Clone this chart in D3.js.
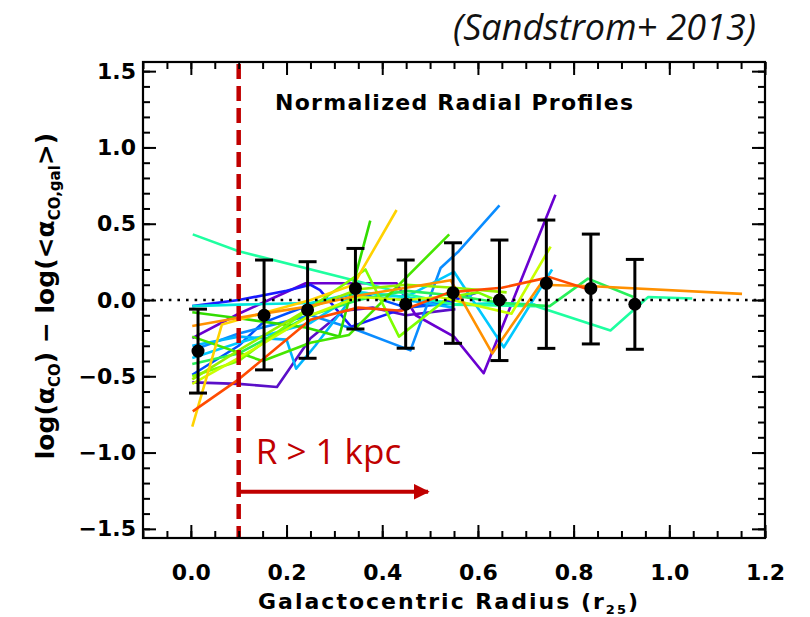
<!DOCTYPE html>
<html>
<head>
<meta charset="utf-8">
<script src="https://cdnjs.cloudflare.com/ajax/libs/d3/7.8.5/d3.min.js"></script>
<style>
  body { margin: 0; background: #fff; }
  svg { display: block; }
</style>
</head>
<body>
<svg id="chart"></svg>
<script>
// binned average profile (black points)
var binX   = [0.015, 0.153, 0.244, 0.344, 0.449, 0.548, 0.645, 0.743, 0.836, 0.928];
var binY   = [-0.335, -0.10, -0.065, 0.076, -0.028, 0.048, 0.0, 0.109, 0.076, -0.028];
var binTop = [-0.06, 0.262, 0.251, 0.338, 0.262, 0.375, 0.393, 0.524, 0.432, 0.266];
var binBot = [-0.61, -0.458, -0.382, -0.19, -0.316, -0.284, -0.397, -0.317, -0.288, -0.323];

// individual galaxy profiles, drawn in rainbow order
var galColors = ["#5a0fc8", "#6a00d0", "#1a1aff", "#0050ff", "#0a8cff", "#00b4ff", "#00c8ff",
                 "#00e6dc", "#1effa0", "#28f05a", "#32dc00", "#46e600", "#7dff00", "#c8ff00",
                 "#96f000", "#ffd200", "#ff9000", "#ff4b00"];
var galProfiles = [
  [[0.003,-0.54],[0.1,-0.55],[0.18,-0.57],[0.25,-0.25],[0.32,-0.07],[0.38,-0.05],[0.45,-0.1],[0.553,-0.06]],
  [[0.003,-0.25],[0.1,-0.09],[0.24,0.11],[0.43,0.11],[0.47,-0.1],[0.55,-0.24],[0.612,-0.48],[0.762,0.69]],
  [[0.003,-0.04],[0.1,0.0],[0.2,0.06],[0.25,0.1],[0.27,0.065],[0.335,-0.175],[0.45,-0.05],[0.55,0.0],[0.6,0.05]],
  [[0.003,-0.49],[0.1,-0.3],[0.15,-0.15],[0.25,-0.03],[0.35,0.05],[0.45,-0.05],[0.55,-0.02]],
  [[0.003,-0.33],[0.1,-0.22],[0.25,-0.1],[0.35,-0.2],[0.459,-0.33],[0.522,0.21],[0.56,0.32],[0.645,0.62]],
  [[0.003,-0.3],[0.1,-0.24],[0.2,-0.26],[0.22,-0.45],[0.26,-0.3],[0.34,0.03],[0.45,0.0],[0.55,-0.05]],
  [[0.003,-0.38],[0.1,-0.28],[0.25,-0.15],[0.35,0.05],[0.45,0.02],[0.55,0.185],[0.654,-0.31],[0.755,0.2]],
  [[0.003,-0.04],[0.1,-0.03],[0.25,-0.02],[0.35,0.05],[0.45,0.02],[0.55,-0.03],[0.65,-0.02],[0.72,-0.03]],
  [[0.004,0.43],[0.1,0.32],[0.34,0.13],[0.45,0.04],[0.55,-0.03],[0.72,-0.04],[0.877,-0.2],[0.956,0.02],[1.048,0.01]],
  [[0.003,-0.42],[0.1,-0.35],[0.25,-0.1],[0.35,0.0],[0.45,0.06],[0.55,0.03],[0.65,-0.02],[0.75,-0.04],[0.83,0.14],[0.925,0.02]],
  [[0.003,-0.08],[0.1,-0.12],[0.24,-0.18],[0.31,-0.24],[0.375,0.52]],
  [[0.003,-0.24],[0.15,-0.4],[0.25,-0.28],[0.33,-0.23],[0.54,0.43]],
  [[0.003,-0.5],[0.1,-0.4],[0.25,-0.05],[0.365,0.2],[0.435,-0.24],[0.54,0.02],[0.6,0.05],[0.63,0.01]],
  [[0.003,-0.55],[0.1,-0.38],[0.25,-0.1],[0.35,0.02],[0.45,0.0],[0.52,0.02],[0.67,-0.09],[0.752,0.35]],
  [[0.003,-0.52],[0.1,-0.33],[0.25,-0.05],[0.35,0.07],[0.45,0.1],[0.55,0.08],[0.66,0.05]],
  [[0.003,-0.83],[0.065,-0.16],[0.25,0.0],[0.34,0.1],[0.43,0.59]],
  [[0.003,-0.17],[0.13,-0.1],[0.25,-0.04],[0.35,0.03],[0.45,0.08],[0.543,0.13],[0.63,-0.35],[0.73,0.1],[0.84,0.09],[1.152,0.04]],
  [[0.004,-0.73],[0.1,-0.52],[0.25,-0.13],[0.35,-0.05],[0.44,-0.07],[0.54,0.05],[0.65,0.08],[0.75,0.15],[0.835,0.065]]
];

var xMajor = [0.0, 0.2, 0.4, 0.6, 0.8, 1.0, 1.2];
var yMajor = [-1.5, -1.0, -0.5, 0.0, 0.5, 1.0, 1.5];
var cutR = 0.1;          // R > 1 kpc cut, in r25
var arrowEnd = 0.5;
var arrowY = -1.257;

var W = 810, H = 617;
var pL = 143, pR = 765, pT = 62, pB = 538;
var red = "#c00000";
var axisFont = "'DejaVu Sans', sans-serif";

var svg = d3.select("#chart").attr("width", W).attr("height", H);

var x = d3.scaleLinear().domain([-0.1, 1.2]).range([pL, pR]);
var y = d3.scaleLinear().domain([-1.56, 1.56]).range([pB, pT]);

var xMinor = d3.range(-0.1, 1.2001, 0.05).map(function(v){ return +v.toFixed(2); });
var yMinor = d3.range(-1.5, 1.5001, 0.1).map(function(v){ return +v.toFixed(1); });

// galaxy lines
var line = d3.line().x(function(d){ return x(d[0]); }).y(function(d){ return y(d[1]); });
svg.append("g").selectAll("path")
  .data(galProfiles)
  .enter().append("path")
    .attr("d", line)
    .attr("fill", "none")
    .attr("stroke", function(d, i){ return galColors[i]; })
    .attr("stroke-width", 2.6)
    .attr("stroke-linejoin", "round");

// zero line
svg.append("line")
  .attr("x1", pL).attr("x2", pR)
  .attr("y1", y(0)).attr("y2", y(0))
  .attr("stroke", "#000").attr("stroke-width", 2.6)
  .attr("stroke-dasharray", "2.6,6");

// dashed cut line
svg.append("line")
  .attr("x1", x(cutR)).attr("x2", x(cutR))
  .attr("y1", pT + 2).attr("y2", pB)
  .attr("stroke", red).attr("stroke-width", 4.5)
  .attr("stroke-dasharray", "15,7");

// arrow
svg.append("defs").append("marker")
  .attr("id", "head").attr("viewBox", "0 0 10 10")
  .attr("refX", 9).attr("refY", 5)
  .attr("markerWidth", 4.2).attr("markerHeight", 4.2)
  .attr("markerUnits", "strokeWidth")
  .attr("orient", "auto")
  .append("path").attr("d", "M0,0 L10,5 L0,10 Z").attr("fill", red);
svg.append("line")
  .attr("x1", x(cutR)).attr("x2", x(arrowEnd) - 2)
  .attr("y1", y(arrowY)).attr("y2", y(arrowY))
  .attr("stroke", red).attr("stroke-width", 3.8)
  .attr("marker-end", "url(#head)");

svg.append("text")
  .attr("x", x(cutR) + 17).attr("y", 464)
  .attr("fill", red)
  .style("font-family", "'Open Sans', 'Noto Sans', sans-serif")
  .style("font-size", "35px")
  .text("R > 1 kpc");

// error bars + points
var bins = binX.map(function(v, i){ return {x: v, y: binY[i], t: binTop[i], b: binBot[i]}; });
var eb = svg.append("g").selectAll("g").data(bins).enter().append("g");
eb.append("line")
  .attr("x1", function(d){ return x(d.x); }).attr("x2", function(d){ return x(d.x); })
  .attr("y1", function(d){ return y(d.t); }).attr("y2", function(d){ return y(d.b); })
  .attr("stroke", "#000").attr("stroke-width", 3);
eb.append("line")
  .attr("x1", function(d){ return x(d.x) - 9; }).attr("x2", function(d){ return x(d.x) + 9; })
  .attr("y1", function(d){ return y(d.t); }).attr("y2", function(d){ return y(d.t); })
  .attr("stroke", "#000").attr("stroke-width", 3);
eb.append("line")
  .attr("x1", function(d){ return x(d.x) - 9; }).attr("x2", function(d){ return x(d.x) + 9; })
  .attr("y1", function(d){ return y(d.b); }).attr("y2", function(d){ return y(d.b); })
  .attr("stroke", "#000").attr("stroke-width", 3);
eb.append("circle")
  .attr("cx", function(d){ return x(d.x); }).attr("cy", function(d){ return y(d.y); })
  .attr("r", 6.5).attr("fill", "#000");

// axes (ticks point inward on all four sides)
function styleAxis(g) {
  g.select(".domain").remove();
  g.selectAll(".tick line").attr("stroke", "#000").attr("stroke-width", 2);
  g.selectAll(".tick text")
    .attr("fill", "#000")
    .style("font-family", axisFont)
    .style("font-weight", "bold")
    .style("font-size", "22px");
}
svg.append("g").attr("transform", "translate(0," + pB + ")")
  .call(d3.axisBottom(x).tickValues(xMajor).tickSize(-13).tickPadding(26).tickFormat(d3.format(".1f")))
  .call(styleAxis);
svg.append("g").attr("transform", "translate(0," + pB + ")")
  .call(d3.axisBottom(x).tickValues(xMinor).tickSize(-7).tickFormat(""))
  .call(styleAxis);
svg.append("g").attr("transform", "translate(0," + pT + ")")
  .call(d3.axisTop(x).tickValues(xMajor).tickSize(-13).tickFormat(""))
  .call(styleAxis);
svg.append("g").attr("transform", "translate(0," + pT + ")")
  .call(d3.axisTop(x).tickValues(xMinor).tickSize(-7).tickFormat(""))
  .call(styleAxis);
svg.append("g").attr("transform", "translate(" + pL + ",0)")
  .call(d3.axisLeft(y).tickValues(yMajor).tickSize(-13).tickPadding(7).tickFormat(d3.format(".1f")))
  .call(styleAxis);
svg.append("g").attr("transform", "translate(" + pL + ",0)")
  .call(d3.axisLeft(y).tickValues(yMinor).tickSize(-7).tickFormat(""))
  .call(styleAxis);
svg.append("g").attr("transform", "translate(" + pR + ",0)")
  .call(d3.axisRight(y).tickValues(yMajor).tickSize(-13).tickFormat(""))
  .call(styleAxis);
svg.append("g").attr("transform", "translate(" + pR + ",0)")
  .call(d3.axisRight(y).tickValues(yMinor).tickSize(-7).tickFormat(""))
  .call(styleAxis);

// frame
svg.append("rect")
  .attr("x", pL).attr("y", pT)
  .attr("width", pR - pL).attr("height", pB - pT)
  .attr("fill", "none").attr("stroke", "#000").attr("stroke-width", 2.2);

// titles
svg.append("text")
  .attr("x", 275).attr("y", 110)
  .attr("textLength", 358).attr("lengthAdjust", "spacing")
  .style("font-family", axisFont).style("font-weight", "bold").style("font-size", "22px")
  .text("Normalized Radial Profiles");

svg.append("text")
  .attr("x", 756).attr("y", 40)
  .attr("text-anchor", "end")
  .attr("fill", "#111")
  .style("font-family", "'Open Sans', 'Noto Sans', sans-serif")
  .style("font-style", "italic")
  .style("font-size", "36px")
  .text("(Sandstrom+ 2013)");

var xl = svg.append("text")
  .attr("x", 258).attr("y", 609)
  .attr("textLength", 380).attr("lengthAdjust", "spacing")
  .style("font-family", axisFont).style("font-weight", "bold").style("font-size", "22px");
xl.append("tspan").text("Galactocentric Radius (r");
xl.append("tspan").attr("dy", 5).style("font-size", "13px").text("25");
xl.append("tspan").attr("dy", -5).text(")");

var yl = svg.append("text")
  .attr("transform", "translate(54,296) rotate(-90)")
  .attr("text-anchor", "middle")
  .style("font-family", axisFont).style("font-weight", "bold").style("font-size", "25px");
yl.append("tspan").text("log(\u03b1");
yl.append("tspan").attr("dy", 6).style("font-size", "15px").text("CO");
yl.append("tspan").attr("dy", -6).text(")  \u2212  log(<\u03b1");
yl.append("tspan").attr("dy", 6).style("font-size", "15px").text("CO,gal");
yl.append("tspan").attr("dy", -6).text(">)");
</script>
</body>
</html>
